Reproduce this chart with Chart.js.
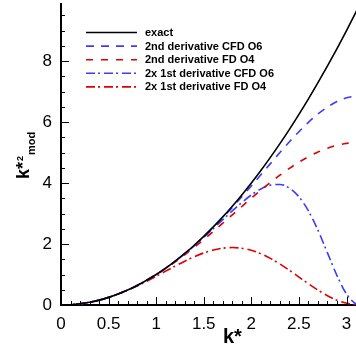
<!DOCTYPE html>
<html>
<head>
<meta charset="utf-8">
<script src="https://cdn.jsdelivr.net/npm/chart.js@4"></script>
<style>
  html, body { margin: 0; padding: 0; overflow: hidden; background: #fff; }
  canvas { display: block; }
</style>
</head>
<body>
<canvas id="myChart" width="360" height="349"></canvas>
<script>
// modified wavenumber data
const kStar = [0, 0.1, 0.2, 0.3, 0.4, 0.5, 0.6, 0.7, 0.8, 0.9, 1.0, 1.1, 1.2, 1.3, 1.4, 1.5, 1.6, 1.7, 1.8, 1.9,
  2.0, 2.1, 2.2, 2.3, 2.4, 2.5, 2.6, 2.7, 2.8, 2.9, 3.0, 3.1, 3.1416];
const exact = [0, 0.01, 0.04, 0.09, 0.16, 0.25, 0.36, 0.49, 0.64, 0.81, 1, 1.21, 1.44, 1.69, 1.96, 2.25, 2.56, 2.89, 3.24, 3.61,
  4, 4.41, 4.84, 5.29, 5.76, 6.25, 6.76, 7.29, 7.84, 8.41, 9, 9.61, 9.87];
const cfd2nd = [0, 0.01, 0.04, 0.09, 0.16, 0.25, 0.36, 0.49, 0.64, 0.81, 1.0, 1.209, 1.439, 1.687, 1.955, 2.241, 2.545, 2.865, 3.201, 3.549,
  3.906, 4.270, 4.636, 4.998, 5.350, 5.683, 5.990, 6.263, 6.493, 6.671, 6.793, 6.852, 6.857];
const fd2nd = [0, 0.01, 0.04, 0.09, 0.16, 0.25, 0.36, 0.489, 0.637, 0.804, 0.990, 1.192, 1.411, 1.644, 1.890, 2.146, 2.411, 2.682, 2.956, 3.230,
  3.501, 3.765, 4.018, 4.258, 4.481, 4.684, 4.863, 5.017, 5.142, 5.237, 5.300, 5.330, 5.333];
const cfd1st = [0, 0.01, 0.04, 0.09, 0.16, 0.25, 0.36, 0.49, 0.64, 0.81, 0.999, 1.208, 1.435, 1.680, 1.942, 2.218, 2.504, 2.796, 3.085, 3.360,
  3.608, 3.806, 3.931, 3.951, 3.833, 3.549, 3.083, 2.450, 1.708, 0.964, 0.360, 0.032, 0];
const fd1st = [0, 0.01, 0.04, 0.09, 0.16, 0.249, 0.357, 0.483, 0.624, 0.778, 0.942, 1.110, 1.277, 1.437, 1.583, 1.707, 1.802, 1.863, 1.883, 1.860,
  1.792, 1.680, 1.529, 1.345, 1.138, 0.917, 0.697, 0.488, 0.305, 0.157, 0.055, 0.005, 0];
const xTicks = [0, 0.5, 1, 1.5, 2, 2.5, 3];
const yTicks = [0, 2, 4, 6, 8];

const FONT = '"Liberation Sans", Arial, sans-serif';
const BLUE = "rgb(60, 60, 255)";
const RED = "rgb(225, 0, 0)";

function pts(ys) {
  return kStar.map((k, i) => ({ x: k, y: ys[i] }));
}

// inward ticks, legend box and axis titles
const decorations = {
  id: "decorations",
  afterDraw(chart) {
    const { ctx, chartArea: a, scales } = chart;
    const x = scales.x, y = scales.y;
    ctx.save();

    // ticks
    ctx.strokeStyle = "#000";
    ctx.lineWidth = 1;
    ctx.beginPath();
    for (let i = 0; i <= 31; i++) {
      const px = Math.round(x.getPixelForValue(i / 10)) + 0.5;
      const len = i % 5 === 0 ? 8 : 4;
      ctx.moveTo(px, a.bottom);
      ctx.lineTo(px, a.bottom - len);
    }
    for (let i = 0; i <= 19; i++) {
      const py = Math.round(y.getPixelForValue(i / 2)) + 0.5;
      const len = i % 4 === 0 ? 8 : 4;
      ctx.moveTo(a.left, py);
      ctx.lineTo(a.left + len, py);
    }
    ctx.stroke();

    // legend
    ctx.font = "bold 11px " + FONT;
    ctx.textBaseline = "middle";
    ctx.textAlign = "left";
    chart.data.datasets.forEach((ds, i) => {
      const ly = a.top + 28.5 + i * 13.6;
      ctx.strokeStyle = ds.borderColor;
      ctx.lineWidth = ds.borderWidth;
      ctx.setLineDash(ds.borderDash || []);
      ctx.beginPath();
      ctx.moveTo(a.left + 25, ly);
      ctx.lineTo(a.left + 76, ly);
      ctx.stroke();
      ctx.setLineDash([]);
      ctx.fillStyle = "#000";
      ctx.fillText(ds.label, a.left + 84, ly + 0.5);
    });

    // x title
    ctx.fillStyle = "#000";
    ctx.textBaseline = "alphabetic";
    ctx.font = "bold 20px " + FONT;
    ctx.fillText("k*", a.left + 162, a.bottom + 38);

    // y title (rotated)
    ctx.translate(a.left - 32, a.top + 175);
    ctx.rotate(-Math.PI / 2);
    ctx.font = "bold 18px " + FONT;
    ctx.fillText("k*", 0, 0);
    let w = ctx.measureText("k*").width;
    ctx.font = "bold 9px " + FONT;
    ctx.fillText("2", w + 1, -6);
    w += 1 + ctx.measureText("2").width;
    ctx.font = "bold 11px " + FONT;
    ctx.fillText("mod", w + 1, 6);

    ctx.restore();
  },
};

const chartdata = {
  datasets: [
    { label: "exact", data: pts(exact), borderColor: "#000", borderWidth: 1.6 },
    { label: "2nd derivative CFD O6", data: pts(cfd2nd), borderColor: BLUE, borderWidth: 1.6, borderDash: [8, 7] },
    { label: "2nd derivative FD O4", data: pts(fd2nd), borderColor: RED, borderWidth: 1.6, borderDash: [7, 8] },
    { label: "2x 1st derivative CFD O6", data: pts(cfd1st), borderColor: BLUE, borderWidth: 1.6, borderDash: [9, 3, 2, 4] },
    { label: "2x 1st derivative FD O4", data: pts(fd1st), borderColor: RED, borderWidth: 1.6, borderDash: [9, 3, 2, 4] },
  ],
};

const config = {
  type: "line",
  data: chartdata,
  options: {
    responsive: false,
    animation: false,
    layout: { padding: { top: 4, right: 0, left: 0, bottom: 0 } },
    elements: {
      point: { radius: 0 },
      line: { cubicInterpolationMode: "monotone", fill: false },
    },
    plugins: { legend: { display: false }, tooltip: { enabled: false } },
    scales: {
      x: {
        type: "linear",
        min: 0,
        max: 3.1416,
        grid: { display: false, drawTicks: false },
        border: { display: true, color: "#000", width: 2 },
        afterBuildTicks: (scale) => { scale.ticks = xTicks.map((v) => ({ value: v })); },
        afterFit: (scale) => {
          scale.height = 44;
          scale.paddingLeft = 0;
          scale.paddingRight = 0;
        },
        ticks: {
          padding: 9,
          color: "#000",
          font: { family: FONT, size: 17 },
          maxRotation: 0,
          autoSkip: false,
          callback: (v) => String(v),
        },
      },
      y: {
        type: "linear",
        min: 0,
        max: 9.8696,
        grid: { display: false, drawTicks: false },
        border: { display: true, color: "#000", width: 2 },
        afterBuildTicks: (scale) => { scale.ticks = yTicks.map((v) => ({ value: v })); },
        afterFit: (scale) => {
          scale.width = 61;
          scale.paddingTop = 0;
          scale.paddingBottom = 0;
        },
        ticks: {
          padding: 9,
          color: "#000",
          font: { family: FONT, size: 17 },
          autoSkip: false,
          callback: (v) => String(v),
        },
      },
    },
  },
  plugins: [decorations],
};

const ctx = document.querySelector("#myChart");
const myChart = new Chart(ctx, config);
</script>
</body>
</html>
